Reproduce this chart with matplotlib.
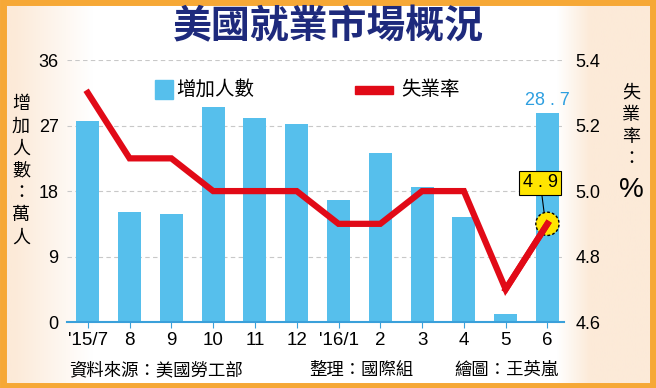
import numpy as np
import matplotlib.pyplot as plt
from matplotlib.patches import Rectangle

plt.rcParams['font.family'] = ['Noto Sans CJK TC', 'DejaVu Sans']

months = ["'15/7", '8', '9', '10', '11', '12', "'16/1", '2', '3', '4', '5', '6']
jobs = [27.7, 15.1, 14.9, 29.5, 28.0, 27.2, 16.8, 23.3, 18.6, 14.4, 1.1, 28.7]
unemployment = [5.3, 5.1, 5.1, 5.0, 5.0, 5.0, 4.9, 4.9, 5.0, 5.0, 4.7, 4.9]

bar_color = '#56BFEC'
line_color = '#E10A17'
navy = '#1E2A7C'
num_font = ['Liberation Sans', 'DejaVu Sans']

fig = plt.figure(figsize=(6.56, 3.88), dpi=100)
fig.patch.set_facecolor('#FCEEE0')

# soft background: peach at the edges, white in the middle
bg = fig.add_axes([0, 0, 1, 1], zorder=-5)
xs = np.linspace(0, 1, 400)
prof = np.clip(np.minimum((xs - 0.02) / 0.12, (0.90 - xs) / 0.05), 0, 1)
c_edge = np.array([252, 234, 216]) / 255
grad = c_edge[None, :] + (1 - c_edge[None, :]) * prof[:, None]
bg.imshow(grad[None, :, :], aspect='auto', extent=[0, 1, 0, 1])
bg.set_axis_off()

ax = fig.add_axes([0.102, 0.170, 0.758, 0.675])
ax.set_facecolor('none')
x = np.arange(len(months))
ax.bar(x, jobs, width=0.55, color=bar_color, zorder=2)
ax.set_xlim(-0.5, 11.4)
ax.set_ylim(0, 36)
ax.set_yticks([0, 9, 18, 27, 36])
ax.set_xticks(x)
ax.set_xticklabels(months, fontsize=13.5, family=num_font)
ax.tick_params(axis='y', length=0, labelsize=13, pad=6)
ax.tick_params(axis='x', length=4, color='#3AA0DA', pad=3)
for lbl in ax.get_yticklabels():
    lbl.set_family(num_font)
for s in ['top', 'left', 'right']:
    ax.spines[s].set_visible(False)
ax.spines['bottom'].set_color('#3AA0DA')
ax.spines['bottom'].set_linewidth(1.5)
ax.grid(axis='y', linestyle=(0, (4, 3)), color='#C8C8C8', linewidth=0.8, zorder=0)
ax.set_axisbelow(True)

ax2 = ax.twinx()
ax2.plot(x, unemployment, color=line_color, linewidth=4.5, solid_joinstyle='miter', zorder=3)
ax2.set_ylim(4.6, 5.4)
ax2.set_yticks([4.6, 4.8, 5.0, 5.2, 5.4])
ax2.set_yticklabels(['4.6', '4.8', '5.0', '5.2', '5.4'], family=num_font)
ax2.tick_params(axis='y', length=0, labelsize=13, pad=8)
for s in ['top', 'left', 'right', 'bottom']:
    ax2.spines[s].set_visible(False)

# highlight last point
ax2.scatter([x[-1]], [unemployment[-1]], s=280, color='#FFE500', edgecolor='black',
            linewidth=1.0, linestyle=(0, (2, 1.5)), zorder=2.5)
ax2.plot(x[-2:], unemployment[-2:], color=line_color, linewidth=4.5, zorder=3)
ax2.annotate('4 . 9', xy=(x[-1] - 0.08, unemployment[-1] + 0.035),
             xytext=(x[-1] - 0.17, 5.025), ha='center', va='center', fontsize=13,
             family=num_font,
             bbox=dict(boxstyle='square,pad=0.2', fc='#FFE500', ec='black', lw=0.8),
             arrowprops=dict(arrowstyle='-', color='black', lw=0.8, shrinkA=0, shrinkB=0),
             zorder=5)
ax.text(x[-1], jobs[-1] + 0.6, '28 . 7', ha='center', va='bottom', fontsize=13,
        color='#2E9FE0', family=num_font)

# legend
fig.patches.append(Rectangle((0.236, 0.745), 0.028, 0.048, transform=fig.transFigure,
                             color=bar_color, figure=fig))
fig.text(0.268, 0.769, '增加人數', fontsize=14, va='center', ha='left')
fig.patches.append(Rectangle((0.541, 0.759), 0.058, 0.020, transform=fig.transFigure,
                             color=line_color, figure=fig))
fig.text(0.612, 0.769, '失業率', fontsize=14, va='center', ha='left')

# title
fig.text(0.5, 0.93, '美國就業市場概況', fontsize=28, fontweight='bold', color=navy,
         ha='center', va='center')

# axis titles
fig.text(0.032, 0.56, '增\n加\n人\n數\n：\n萬\n人', fontsize=13, ha='center', va='center',
         linespacing=1.3)
fig.text(0.962, 0.675, '失\n業\n率\n：', fontsize=13, ha='center', va='center', linespacing=1.3)
fig.text(0.962, 0.51, '%', fontsize=20, ha='center', va='center', family=num_font)

# footer
fig.text(0.105, 0.047, '資料來源：美國勞工部', fontsize=12.5, ha='left', va='center')
fig.text(0.472, 0.047, '整理：國際組', fontsize=12.5, ha='left', va='center')
fig.text(0.693, 0.047, '繪圖：王英嵐', fontsize=12.5, ha='left', va='center')

# orange frame
fig.patches.append(Rectangle((0.004, 0.006), 0.992, 0.988, transform=fig.transFigure,
                             fill=False, ec='#F6A836', lw=5, figure=fig))

fig.savefig('out.png', dpi=100, facecolor=fig.get_facecolor())
